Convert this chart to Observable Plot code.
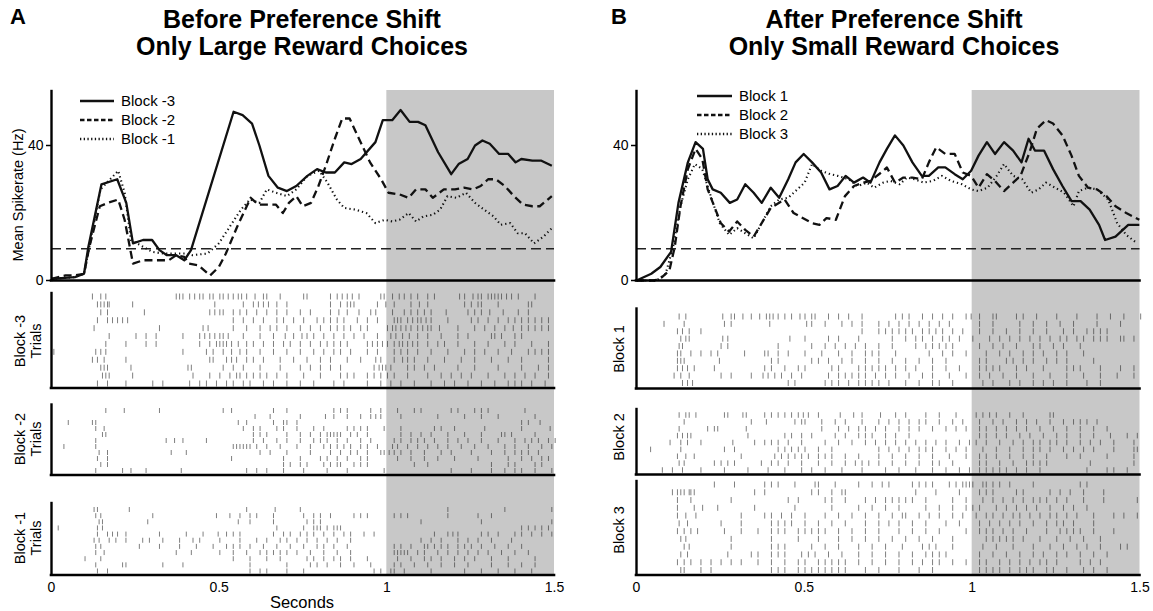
<!DOCTYPE html>
<html><head><meta charset="utf-8">
<script src="https://cdn.jsdelivr.net/npm/d3@7"></script>
<script src="https://cdn.jsdelivr.net/npm/@observablehq/plot@0.6"></script>
<style>
body{margin:0;background:#fff;font-family:"Liberation Sans",Arial,Helvetica,sans-serif;color:#000;}
#root{position:relative;width:1153px;height:611px;overflow:hidden;background:#fff;}
.abs{position:absolute;white-space:nowrap;}
.title{font-weight:bold;font-size:25px;text-align:center;width:560px;line-height:27px;}
.letter{font-weight:bold;font-size:22px;}
.rot{transform:translate(-50%,-50%) rotate(-90deg);text-align:center;}
</style></head><body><div id="root"></div>
<script>
// ---------------- DATA ----------------
const timeDomain = [0, 1.5];
const xTicks = [0, 0.5, 1, 1.5];
const xTickLabels = ["0", "0.5", "1", "1.5"];
const yTicks = [0, 40];
const shadeWindow = [1, 1.5];
const baselineRate = 9.4;

const titlesA = ["Before Preference Shift", "Only Large Reward Choices"];
const titlesB = ["After Preference Shift", "Only Small Reward Choices"];
const seriesNamesA = ["Block -3", "Block -2", "Block -1"];
const seriesNamesB = ["Block 1", "Block 2", "Block 3"];
const rasterLabelsA = [["Block -3", "Trials"], ["Block -2", "Trials"], ["Block -1", "Trials"]];
const rasterLabelsB = [["Block 1"], ["Block 2"], ["Block 3"]];
const yLabel = "Mean Spikerate (Hz)";
const xLabel = "Seconds";

// mean spike rate (seconds, Hz)
const rateBlockM3 = [[0,0.5],[0.04,0.8],[0.07,1],[0.097,2],[0.11,10],[0.149,28.5],[0.196,30],[0.223,23],[0.243,11],[0.273,12],[0.30,12],[0.322,9],[0.344,7.5],[0.372,7.5],[0.396,6],[0.416,9],[0.543,50],[0.57,49],[0.598,46.5],[0.62,40],[0.647,31],[0.675,27.5],[0.702,26.5],[0.73,28],[0.763,31],[0.792,33],[0.818,32],[0.845,32],[0.873,35],[0.895,34.5],[0.922,36],[0.966,41],[0.988,47.5],[1.016,47.5],[1.041,50.5],[1.068,47],[1.093,47],[1.115,46],[1.153,38],[1.192,31.5],[1.214,34.5],[1.241,36],[1.263,40],[1.285,41.5],[1.307,40.5],[1.335,37.5],[1.362,37.5],[1.384,35],[1.401,36],[1.434,35.5],[1.461,35.5],[1.492,34]];
const rateBlockM2 = [[0,0.5],[0.042,1.5],[0.07,1.5],[0.097,2],[0.113,10],[0.144,22],[0.168,23],[0.199,24],[0.218,18],[0.243,5],[0.273,6],[0.35,6],[0.372,7.5],[0.396,7],[0.41,5],[0.438,4.5],[0.473,1.5],[0.499,4],[0.52,8],[0.554,16],[0.594,24.5],[0.616,22.5],[0.636,22.5],[0.669,22.5],[0.69,20],[0.708,23],[0.73,25],[0.749,22],[0.774,23],[0.796,28],[0.818,34],[0.845,42],[0.867,48],[0.889,48],[0.917,42],[0.95,35],[0.983,30],[1.005,26],[1.038,25.5],[1.065,24.5],[1.087,27],[1.115,27],[1.137,24.5],[1.17,27],[1.203,27],[1.23,27.5],[1.258,27],[1.28,28],[1.302,30],[1.325,30],[1.352,28],[1.379,25],[1.406,22.5],[1.434,22],[1.456,22],[1.492,25]];
const rateBlockM1 = [[0,0.5],[0.07,1],[0.097,2],[0.113,10],[0.146,27],[0.199,32.5],[0.218,26],[0.237,12],[0.273,10],[0.30,8.5],[0.333,8],[0.366,8],[0.40,8],[0.421,7.5],[0.465,8],[0.499,11],[0.532,16],[0.565,21],[0.592,24],[0.62,23],[0.642,27],[0.669,26],[0.702,25],[0.73,27],[0.763,31],[0.798,32.5],[0.823,29],[0.851,24],[0.873,21.5],[0.906,21],[0.939,20],[0.966,17],[0.994,18],[1.016,17.5],[1.038,18],[1.065,20],[1.087,17.5],[1.109,19],[1.137,19.5],[1.159,21],[1.181,25],[1.208,24.5],[1.236,26],[1.263,23],[1.29,21],[1.318,19],[1.34,16.5],[1.368,17],[1.39,14],[1.412,14],[1.439,11],[1.467,13],[1.492,15.5]];
const rateBlock1 = [[0,0],[0.044,2],[0.071,4],[0.103,8.5],[0.125,23],[0.153,35],[0.176,41],[0.198,39],[0.212,30],[0.227,27],[0.251,26],[0.278,23],[0.30,24],[0.324,28.5],[0.349,26],[0.373,23],[0.40,27.5],[0.425,24.5],[0.452,30],[0.474,35],[0.498,37.5],[0.523,35],[0.55,32],[0.575,27],[0.599,28],[0.623,31],[0.648,29],[0.675,30.5],[0.697,29],[0.724,35],[0.746,39],[0.77,43],[0.795,40],[0.822,35],[0.85,31],[0.871,31],[0.899,33.5],[0.92,33.5],[0.948,31.5],[0.972,30],[0.997,32.5],[1.019,37],[1.044,41],[1.068,37.5],[1.095,41],[1.122,38.5],[1.147,35],[1.168,42],[1.187,38.5],[1.214,38.5],[1.241,33],[1.269,28],[1.296,23.5],[1.323,23.5],[1.35,21],[1.378,16.5],[1.396,12],[1.427,13],[1.465,16.5],[1.498,16.5]];
const rateBlock2 = [[0,0],[0.054,0],[0.076,1],[0.098,3],[0.114,10],[0.131,22],[0.153,33],[0.176,39],[0.196,36],[0.212,27],[0.251,17],[0.276,14.5],[0.30,17.5],[0.324,15],[0.349,13],[0.373,17],[0.40,21.5],[0.441,24],[0.468,20],[0.495,18.5],[0.523,17],[0.545,16.5],[0.566,18.5],[0.594,18],[0.621,25],[0.648,28],[0.675,29],[0.697,29.5],[0.729,32],[0.746,33.5],[0.77,29],[0.795,30.5],[0.822,30.5],[0.85,30],[0.871,35],[0.893,39.5],[0.92,37.5],[0.948,37.5],[0.972,32],[0.997,31],[1.019,27.5],[1.044,31.5],[1.068,29.5],[1.095,26.5],[1.122,29],[1.144,31],[1.171,38],[1.193,45],[1.22,47.5],[1.241,46.5],[1.269,43],[1.296,37],[1.318,31],[1.345,27.5],[1.372,27],[1.40,25],[1.427,22],[1.459,20],[1.498,18]];
const rateBlock3 = [[0,0],[0.06,0],[0.087,2],[0.109,10],[0.131,22],[0.153,30],[0.174,34.5],[0.196,33],[0.218,26],[0.248,17],[0.276,13.5],[0.30,15.5],[0.324,14],[0.349,12.5],[0.373,17],[0.40,22],[0.425,24],[0.452,24.5],[0.479,27],[0.501,29],[0.523,34.5],[0.55,32.5],[0.577,31.5],[0.599,31],[0.632,30],[0.659,28],[0.686,29],[0.708,27.5],[0.735,29],[0.757,29.5],[0.784,28.5],[0.806,30.5],[0.828,30],[0.856,29],[0.883,29.5],[0.91,31],[0.937,29.5],[0.97,28.5],[0.997,27],[1.019,26.5],[1.046,27.5],[1.073,31],[1.095,34.5],[1.122,31],[1.149,30],[1.176,26],[1.198,27],[1.22,29],[1.247,27.5],[1.274,26],[1.302,22],[1.318,26.5],[1.345,27.5],[1.372,27],[1.405,24],[1.432,17],[1.459,13.5],[1.492,11]];

// raster spike times (ms), one string per trial
const rasterBlockM3 = [
"122 147 162 372 382 392 412 427 442 452 472 482 502 512 527 542 557 567 582 607 632 642 682 752 762 832 852 867 882 897 917 982 992 1017 1037 1052 1072 1092 1122 1142 1217 1232 1257 1272 1282 1302 1312 1322 1332 1342 1357 1372 1392 1442",
"137 147 157 167 172 242 487 572 602 617 632 647 672 702 832 862 882 892 902 972 997 1022 1072 1097 1122 1232 1252 1272 1282 1332 1422 1432",
"147 167 277 472 487 502 512 542 562 582 612 642 672 702 742 772 832 857 882 917 952 967 1017 1052 1072 1092 1112 1132 1177 1242 1262 1282 1307 1347 1392 1422",
"137 167 182 197 212 227 542 572 602 632 672 692 722 752 792 812 832 852 872 912 942 972 1022 1032 1042 1062 1077 1092 1102 1117 1132 1182 1252 1272 1302 1332 1362 1382 1402 1422 1442 1462 1482",
"127 322 452 467 542 582 622 652 672 702 742 772 802 832 852 872 892 922 942 1002 1017 1027 1042 1057 1072 1092 1107 1122 1132 1157 1212 1262 1292 1322 1352 1377 1402 1422 1442 1462 1482",
"172 252 282 312 392 442 457 472 487 502 512 527 572 622 662 697 722 747 762 782 812 842 872 902 932 972 1012 1027 1047 1067 1092 1122 1162 1212 1242 1312 1322 1342 1382 1402",
"162 222 282 312 442 472 492 502 512 522 537 557 582 602 632 662 692 712 742 772 802 822 842 862 882 942 957 972 987 1002 1022 1037 1047 1062 1077 1092 1122 1152 1172 1212 1262 1302 1352 1382 1432 1482",
"7 132 147 162 392 462 482 512 537 562 582 622 662 702 742 782 812 842 862 892 942 972 1022 1042 1062 1092 1132 1182 1232 1262 1292 1332 1372 1422 1442 1462 1482",
"122 137 157 222 472 482 522 537 552 582 602 632 682 722 762 802 832 882 922 967 982 1022 1047 1062 1082 1122 1172 1222 1262 1312 1362 1402 1482",
"147 157 167 237 407 417 512 542 572 622 682 742 772 802 832 862 962 977 987 997 1012 1062 1082 1112 1142 1212 1262 1332 1402 1452 1482",
"152 162 172 242 422 472 502 532 552 562 582 602 622 642 672 702 752 802 862 882 902 942 962 982 1002 1022 1062 1122 1162 1192 1222 1252 1302 1352 1382 1412 1442 1482",
"137 167 222 302 332 412 442 462 492 522 542 572 592 632 662 702 742 782 842 872 942 982 1012 1042 1082 1132 1172 1202 1242 1282 1322 1362 1382 1402 1432 1472"
];
const rasterBlockM2 = [
"162 217 322 512 537 662 702 842 862 882 952 982 1032 1082 1102 1192 1212 1262 1282 1302 1412",
"607 652 742 817 842 882 922 952 967 982 1042 1152 1232 1282 1332 1442",
"50 122 132 557 582 662 692 702 732 1402 1422 1457",
"132 157 572 602 622 672 692 732 782 812 882 902 922 942 992 1042 1142 1162 1202 1292 1402 1487",
"152 162 602 622 642 702 742 772 802 822 832 842 852 862 892 912 942 1042 1072 1102 1132 1182 1232 1282 1342 1352 1372 1442",
"132 342 367 392 462 602 632 672 702 742 782 802 822 852 882 922 952 1022 1042 1072 1092 1112 1142 1182 1212 1242 1282 1332 1382 1412 1432 1452 1482 1502",
"37 132 542 552 562 572 582 592 612 642 682 732 772 812 832 852 872 892 922 942 972 1017 1032 1062 1092 1122 1152 1182 1222 1262 1302 1352 1382 1422 1462 1492",
"142 167 357 402 622 652 702 772 832 862 892 912 942 982 992 1007 1022 1042 1072 1112 1162 1192 1252 1312 1352 1382 1402 1422 1452",
"137 167 537 692 742 802 822 852 882 922 942 1032 1072 1112 1152 1202 1272 1362 1402 1432 1462 1482",
"147 167 692 712 742 762 812 832 852 862 902 922 942 1082 1122 1312 1362 1382 1442 1462",
"132 212 237 282 387 582 612 642 692 752 822 882 992 1192 1252 1312 1352 1382 1402 1442 1492"
];
const rasterBlockM1 = [
"127 137 232 582 667 742 1182 1352 1492",
"132 147 302 492 532 562 592 612 662 752 782 802 832 902 922 942 1022 1042 1062 1182 1272 1312",
"142 152 287 557 592 662 762 782 802 1102 1282 1492",
"20 137 152 672 752 782 792 802 822 842 852 862 1402 1422 1442 1462 1482",
"137 167 182 197 222 322 402 452 497 522 542 562 662 692 712 742 762 782 812 842 872 892 932 962 1142 1182 1197 1212 1282 1302 1332 1382 1402 1432 1462 1492",
"127 142 172 192 222 272 292 332 382 422 442 502 562 612 642 682 702 732 762 792 822 852 892 1102 1132 1162 1212 1242 1272 1312 1372",
"132 147 262 322 382 432 482 522 542 562 592 632 672 712 752 792 812 842 882 1022 1042 1072 1112 1122 1142 1162 1182 1212 1232 1252 1282 1322 1362 1402",
"132 157 372 417 502 542 582 622 642 662 682 702 732 772 812 852 892 1022 1032 1042 1052 1062 1092 1112 1152 1182 1212 1242 1272 1302 1342 1382 1422",
"100 147 542 592 642 682 762 782 812 842 862 892 942 1032 1072 1112 1132 1162 1202 1232 1262 1312 1362 1442",
"132 212 222 332 392 592 702 772 792 822 862 902 952 1022 1042 1082 1122 1162 1202 1242 1312 1362 1402 1442",
"137 167 592 622 642 702 752 962 982 1012 1022 1052 1132 1232 1282 1332 1382 1432"
];
const rasterBlock1 = [
"127 147 257 282 292 317 342 367 387 397 407 422 442 462 487 502 522 532 572 602 632 672 772 792 812 852 882 912 942 982 997 1022 1062 1072 1132 1152 1192 1252 1312 1372 1412 1452 1502",
"82 142 262 282 397 507 522 562 612 642 672 722 752 782 812 842 872 902 932 1022 1062 1142 1182 1222 1262 1302 1372 1442",
"122 137 157 192 672 722 742 762 782 802 822 852 872 892 912 942 972 1022 1062 1102 1142 1182 1222 1272 1302 1342 1362 1382 1402",
"132 147 157 257 272 457 502 572 602 662 762 802 832 852 882 912 932 962 1002 1052 1082 1112 1142 1172 1202 1232 1262 1282 1312 1332 1362 1382 1402 1442 1452 1482",
"127 137 252 272 422 522 562 592 622 652 682 722 762 832 862 882 902 922 942 1022 1062 1092 1132 1182 1202 1242 1272 1322",
"122 132 162 192 222 242 322 382 392 422 452 502 552 602 642 682 702 722 772 872 912 942 982 1042 1082 1112 1152 1182 1212 1252 1282 1332",
"122 132 142 247 402 422 522 542 572 612 642 682 722 762 802 842 882 922 1022 1042 1102 1122 1152 1182 1222 1252 1282 1362",
"122 137 152 172 232 382 402 442 482 502 582 602 662 682 702 722 742 772 802 832 882 922 962 1022 1042 1062 1082 1132 1162 1212 1282 1302 1322 1382 1442 1482",
"112 132 157 252 282 342 377 392 412 432 462 492 572 602 622 642 662 682 712 742 772 812 852 882 932 982 1022 1052 1092 1132 1182 1232 1282 1332 1382 1432 1482",
"137 152 167 452 472 562 582 602 632 662 682 702 722 752 802 842 882 902 942 1032 1062 1112 1142 1182 1212 1242 1282 1342 1382"
];
const rasterBlock2 = [
"127 147 157 177 262 272 317 327 382 402 422 442 462 482 497 512 542 607 647 672 727 772 802 862 902 952 1012 1032 1052 1072 1112 1152 1232 1242",
"142 342 387 472 492 502 552 592 622 672 722 752 782 812 842 862 902 942 972 1022 1062 1092 1132 1162 1192 1232 1272 1302 1322 1342 1372",
"127 212 232 242 327 552 602 632 662 682 712 742 782 812 842 882 922 952 982 1022 1042 1072 1102 1132 1162 1202 1242 1282 1322 1362 1402",
"122 137 152 162 332 442 462 492 522 592 622 662 682 702 742 772 812 1022 1042 1072 1102 1142 1172 1212 1252 1282 1322 1362 1412 1462 1492",
"100 132 152 192 287 352 382 402 422 452 492 562 602 642 682 712 742 772 802 832 862 892 922 962 992 1012 1042 1082 1122 1152 1182 1202 1232 1252 1282 1322 1352 1382 1422 1482",
"42 132 262 292 422 442 462 482 502 542 582 722 752 782 812 842 862 882 922 952 982 1032 1072 1112 1152 1182 1202 1232 1272 1302 1332 1362 1422 1482 1492",
"122 147 172 312 412 432 452 472 492 512 542 562 582 622 662 722 762 802 842 882 932 982 1022 1042 1072 1112 1152 1182 1222 1282 1322 1402 1482",
"127 142 232 252 272 292 372 402 422 452 492 542 582 622 652 672 692 722 762 802 842 882 902 942 1022 1042 1082 1122 1162 1182 1202 1222 1352 1482",
"77 107 137 192 262 332 392 442 492 522 562 612 672 742 782 832 882 922 962 992 1022 1042 1062 1082 1102 1132 1162 1202 1342 1402 1422 1462"
];
const rasterBlock3 = [
"232 292 382 402 422 472 532 542 592 662 702 732 752 822 842 862 882 932 952 972 982 992 1002 1032 1042 1062 1082 1112 1182 1322 1342",
"107 122 132 142 157 162 172 352 382 522 542 582 612 622 832 892 962 1022 1042 1062 1132 1152 1232 1262 1292 1332 1392",
"122 162 282 452 482 562 582 622 682 712 742 762 782 802 822 862 942 982 1032 1062 1092 1122 1152 1182 1202 1222 1252 1282 1332 1392 1492",
"122 172 197 242 352 472 582 662 702 742 782 862 902 942 982 1002 1022 1072 1102 1132 1162 1192 1232 1272 1302 1342",
"122 147 177 312 382 402 432 462 502 562 602 642 682 722 762 792 802 842 872 902 942 972 1012 1042 1062 1092 1122 1142 1172 1202 1232 1252 1282 1312 1362 1422 1452 1492",
"127 152 252 312 402 422 442 462 502 542 582 622 682 722 752 782 822 862 922 962 1022 1052 1082 1112 1142 1182 1222 1252 1272 1302 1362",
"122 142 162 182 262 312 362 402 422 442 482 502 522 542 562 602 642 682 722 782 822 862 902 982 1022 1042 1062 1092 1122 1162 1222 1262 1282 1302 1322 1362 1422",
"132 147 282 402 482 542 602 642 682 722 762 802 842 882 942 1042 1062 1082 1102 1122 1152 1202 1252 1292 1332 1382",
"142 157 282 402 422 442 522 562 602 662 702 742 792 852 872 892 942 1032 1072 1122 1182 1232 1272 1312 1342 1382 1442 1462",
"132 152 272 342 362 402 422 442 492 512 532 572 612 662 702 742 782 822 862 882 902 922 1022 1062 1102 1142 1182 1212 1252 1282 1322 1362 1402",
"122 142 162 192 222 252 282 312 362 402 442 482 502 542 562 582 602 622 662 702 742 782 822 852 882 902 942 982 1022 1042 1082 1112 1142 1172 1202 1222 1252 1322 1352 1382",
"132 142 192 222 402 422 442 482 502 522 542 562 582 602 622 682 722 782 842 882 1022 1042 1062 1082 1112 1142 1162 1182 1222 1242 1282 1332 1362 1402"
];

// ---------------- LAYOUT ----------------
const H = 611;
const PX_PER_HZ = 3.375;   // vertical pixels per Hz
const ZERO_PX = 280;       // pixel row of 0 Hz
const Y_TOP = 56;          // top of rate axis (Hz)
const SHADE_TOP_PX = 90;
const BOTTOM_PX = 574.5;
const toU = py => (ZERO_PX - py) / PX_PER_HZ;
const FONT = '"Liberation Sans", Arial, Helvetica, sans-serif';

const seriesStyles = [
  {dash: null, width: 2.3, cap: "butt"},
  {dash: "8,4.5", width: 2.3, cap: "butt"},
  {dash: "1.3,3", width: 2.1, cap: "butt"}
];
const legendDash = [null, "4.5,2.5", "1.3,2.4"];

const panels = [
  {
    left: 0, width: 576, x0: 51, x1: 554,
    series: [rateBlockM3, rateBlockM2, rateBlockM1], names: seriesNamesA,
    legend: {x1: 80, x2: 114, tx: 121, y: [101, 120, 139]},
    blocks: [
      {rows: rasterBlockM3, top: 293, bottom: 387.5, first: 296.5, last: 383.5, tick: 6, label: rasterLabelsA[0], lx: 28, ly: 341},
      {rows: rasterBlockM2, top: 404.5, bottom: 474.5, first: 410.5, last: 470.5, tick: 5, label: rasterLabelsA[1], lx: 28, ly: 439},
      {rows: rasterBlockM1, top: 503, bottom: BOTTOM_PX, first: 509.5, last: 571, tick: 5, label: rasterLabelsA[2], lx: 28, ly: 538}
    ],
    titles: titlesA, titleCx: 302, letter: "A", letterX: 10, yLabel: true
  },
  {
    left: 576, width: 577, x0: 636, x1: 1139.5,
    series: [rateBlock1, rateBlock2, rateBlock3], names: seriesNamesB,
    legend: {x1: 697, x2: 732, tx: 739, y: [96, 115, 134]},
    blocks: [
      {rows: rasterBlock1, top: 308.5, bottom: 388, first: 316.5, last: 383, tick: 6, label: rasterLabelsB[0], lx: 619, ly: 349},
      {rows: rasterBlock2, top: 409, bottom: 474, first: 415, last: 470, tick: 5.5, label: rasterLabelsB[1], lx: 619, ly: 437},
      {rows: rasterBlock3, top: 481, bottom: BOTTOM_PX, first: 484.5, last: 570, tick: 6, label: rasterLabelsB[2], lx: 619, ly: 530}
    ],
    titles: titlesB, titleCx: 894, letter: "B", letterX: 611, yLabel: false
  }
];

const root = document.getElementById("root");
function addDiv(cls, html, css) {
  const d = document.createElement("div");
  d.className = "abs " + cls;
  d.innerHTML = html;
  Object.assign(d.style, css);
  root.appendChild(d);
  return d;
}

panels.forEach(p => {
  const spikes = [];
  p.blocks.forEach(b => {
    const rows = b.rows.map(r => r.trim().split(/\s+/).map(Number));
    const n = rows.length;
    rows.forEach((r, i) => {
      const cy = b.first + i * (b.last - b.first) / (n - 1);
      r.forEach(ms => spikes.push({t: ms / 1000, y1: toU(cy + b.tick / 2), y2: toU(cy - b.tick / 2)}));
    });
  });

  const axisMarks = [
    Plot.ruleY([0], {x1: timeDomain[0], x2: timeDomain[1], stroke: "#000", strokeWidth: 2.6, strokeLinecap: "square"}),
    Plot.ruleX([timeDomain[0]], {y1: 0, y2: Y_TOP, stroke: "#000", strokeWidth: 2.4, strokeLinecap: "square"})
  ];
  p.blocks.forEach(b => {
    axisMarks.push(Plot.ruleY([toU(b.bottom)], {x1: timeDomain[0], x2: timeDomain[1], stroke: "#000", strokeWidth: 2.6, strokeLinecap: "square"}));
    axisMarks.push(Plot.ruleX([timeDomain[0]], {y1: toU(b.bottom), y2: toU(b.top), stroke: "#000", strokeWidth: 2.4, strokeLinecap: "square"}));
  });

  const lineMarks = [2, 1, 0].map(k => Plot.line(p.series[k], {
    x: d => d[0], y: d => d[1], stroke: "#111", strokeWidth: seriesStyles[k].width,
    strokeDasharray: seriesStyles[k].dash, strokeLinejoin: "round", strokeLinecap: seriesStyles[k].cap
  }));

  const chart = Plot.plot({
    width: p.width, height: H,
    marginLeft: p.x0 - p.left, marginRight: p.left + p.width - p.x1,
    marginTop: ZERO_PX - Y_TOP * PX_PER_HZ, marginBottom: H - BOTTOM_PX,
    x: {domain: timeDomain, axis: null},
    y: {domain: [toU(BOTTOM_PX), Y_TOP], axis: null},
    style: {fontFamily: FONT, fontSize: "14px", color: "#000", background: "transparent", overflow: "visible"},
    marks: [
      Plot.rect([0], {x1: shadeWindow[0], x2: shadeWindow[1], y1: toU(BOTTOM_PX), y2: toU(SHADE_TOP_PX), fill: "#c8c8c8"}),
      Plot.ruleX(spikes, {x: "t", y1: "y1", y2: "y2", stroke: "#2a2a2a", strokeOpacity: 0.6, strokeWidth: 1}),
      Plot.ruleY([baselineRate], {x1: timeDomain[0], x2: timeDomain[1], stroke: "#222", strokeWidth: 1.6, strokeDasharray: "10,5"}),
      ...lineMarks,
      ...axisMarks,
      Plot.axisY({ticks: yTicks, tickSize: 5, tickPadding: 3, label: null, strokeWidth: 1.5, fontSize: 14, tickFormat: d => String(d)}),
      Plot.axisX({ticks: xTicks, tickSize: 0, tickPadding: 7, label: null, fontSize: 14, tickFormat: d => xTickLabels[xTicks.indexOf(d)]})
    ]
  });
  chart.style.position = "absolute";
  chart.style.left = p.left + "px";
  chart.style.top = "0px";
  root.appendChild(chart);

  // titles
  addDiv("title", p.titles.join("<br>"), {left: (p.titleCx - 280) + "px", top: "6px"});
  addDiv("letter", p.letter, {left: p.letterX + "px", top: "4px"});

  // legend
  const lg = d3.create("svg").attr("width", 130).attr("height", 60)
    .style("position", "absolute").style("left", (p.legend.x1 - 2) + "px").style("top", (p.legend.y[0] - 10) + "px")
    .style("overflow", "visible");
  p.names.forEach((nm, i) => {
    const yy = p.legend.y[i] - p.legend.y[0] + 10;
    lg.append("line").attr("x1", 2).attr("x2", p.legend.x2 - p.legend.x1 + 2).attr("y1", yy).attr("y2", yy)
      .attr("stroke", "#111").attr("stroke-width", 2.3).attr("stroke-dasharray", legendDash[i]);
    lg.append("text").attr("x", p.legend.tx - p.legend.x1 + 2).attr("y", yy).attr("dy", "0.36em")
      .attr("font-family", FONT).attr("font-size", 15).text(nm);
  });
  root.appendChild(lg.node());

  // raster labels
  p.blocks.forEach(b => {
    addDiv("rot", b.label.join("<br>"), {left: b.lx + "px", top: b.ly + "px", fontSize: "14.5px", lineHeight: "16px"});
  });
  if (p.yLabel) {
    addDiv("rot", yLabel, {left: "18px", top: "195px", fontSize: "14.5px"});
    addDiv("", xLabel, {left: "302px", top: "602px", fontSize: "16.5px", transform: "translate(-50%,-50%)"});
  }
});
</script></body></html>
